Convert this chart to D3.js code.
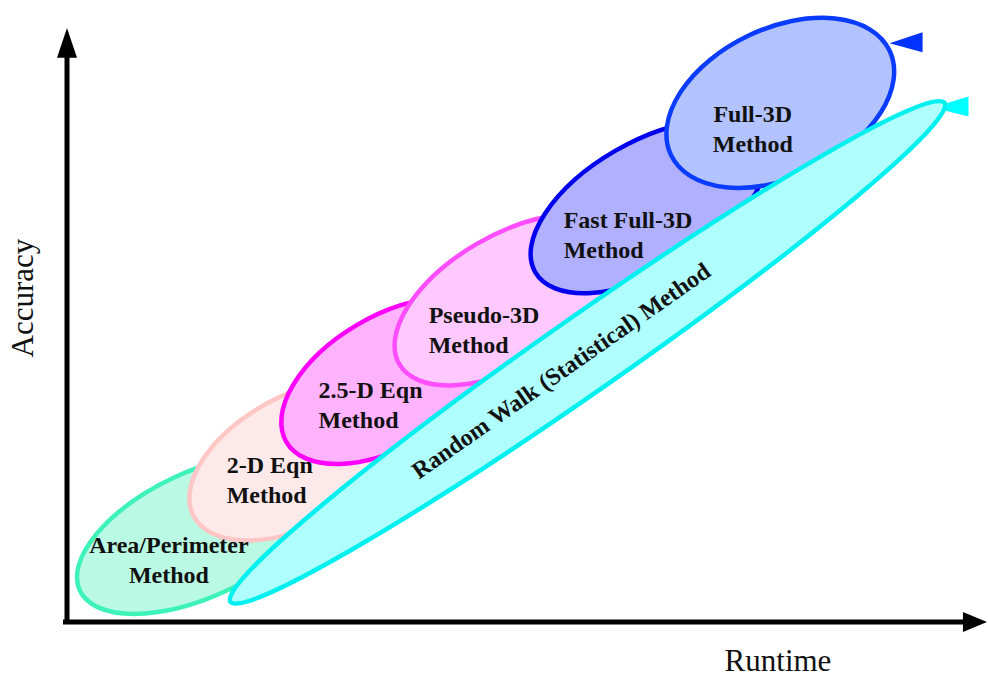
<!DOCTYPE html>
<html>
<head>
<meta charset="utf-8">
<script src="https://cdn.jsdelivr.net/npm/d3@7"></script>
<style>
  body { margin: 0; background: #fff; }
  svg { display: block; }
</style>
</head>
<body>
<div id="chart"></div>
<script>
// methods: major axis from (runtime0, accuracy0) to (runtime1, accuracy1), spread = half minor axis (runtime units)
const methods = ['Area/Perimeter Method', '2-D Eqn Method', '2.5-D Eqn Method', 'Pseudo-3D Method', 'Fast Full-3D Method', 'Full-3D Method'];
const runtime0 = [1.4, 13.8, 23.9, 36.2, 51.0, 65.8];
const accuracy0 = [5.3, 17.8, 30.3, 43.4, 58.9, 78.6];
const runtime1 = [27.8, 36.9, 46.5, 60.3, 75.6, 89.6];
const accuracy1 = [24.4, 36.8, 50.8, 65.0, 80.8, 96.2];
const spread = [6.8, 7.1, 7.1, 7.1, 7.1, 8.1];
// label anchor (runtime, accuracy) of first line
const labelRuntime = [11.1, 17.4, 27.4, 39.4, 54.1, 74.7];
const labelAccuracy = [11.6, 25.1, 37.7, 50.3, 66.3, 84.2];
const labelAlign = ['middle', 'start', 'start', 'start', 'start', 'middle'];
const outline = ['#3ef3b8', '#ffc6c6', '#ff00ff', '#ff4dff', '#0000ee', '#0a3cff'];
const fill = ['#baf9e3', '#fde9e9', '#ffb3ff', '#ffc8ff', '#b0b0ff', '#b3c3ff'];

const walkLabel = 'Random Walk (Statistical) Method';
const walkRuntime = [17.8, 95.6];
const walkAccuracy = [3.4, 87.4];
const walkSpread = 4.1;

// small arrowheads at the top right ends
const arrowTipRuntime = [89.6, 94.3];
const arrowBackRuntime = [93.2, 98.2];
const arrowAccuracy = [97.6, 86.8];
const arrowColor = ['#0033ff', '#00ffff'];

const width = 988,
  height = 679;

const x = d3.scaleLinear().domain([0, 100]).range([67, 985]);
const y = d3.scaleLinear().domain([0, 100]).range([622, 28]);
const unit = x(1) - x(0);

const svg = d3.select('#chart').append('svg').attr('width', width).attr('height', height);

function ellipseOf(r0, a0, r1, a1, s) {
  const x1 = x(r0), y1 = y(a0), x2 = x(r1), y2 = y(a1);
  const dx = x2 - x1, dy = y2 - y1;
  return {
    cx: (x1 + x2) / 2,
    cy: (y1 + y2) / 2,
    rx: Math.sqrt(dx * dx + dy * dy) / 2,
    ry: s * unit,
    angle: (Math.atan2(dy, dx) * 180) / Math.PI,
  };
}

const shapes = methods.map((m, i) =>
  Object.assign(
    { name: m, stroke: outline[i], fill: fill[i] },
    ellipseOf(runtime0[i], accuracy0[i], runtime1[i], accuracy1[i], spread[i])
  )
);

svg
  .append('g')
  .selectAll('ellipse')
  .data(shapes)
  .join('ellipse')
  .attr('cx', 0)
  .attr('cy', 0)
  .attr('rx', (d) => d.rx)
  .attr('ry', (d) => d.ry)
  .attr('transform', (d) => `translate(${d.cx},${d.cy}) rotate(${d.angle})`)
  .attr('fill', (d) => d.fill)
  .attr('stroke', (d) => d.stroke)
  .attr('stroke-width', 4.5);

// arrowheads
svg
  .append('g')
  .selectAll('path')
  .data(arrowColor)
  .join('path')
  .attr('d', (c, i) => {
    const tx = x(arrowTipRuntime[i]), bx = x(arrowBackRuntime[i]), cy = y(arrowAccuracy[i]);
    return `M${tx},${cy + 1}L${bx},${cy - 10}L${bx},${cy + 10}Z`;
  })
  .attr('fill', (c) => c);

// random walk
const walk = ellipseOf(walkRuntime[0], walkAccuracy[0], walkRuntime[1], walkAccuracy[1], walkSpread);
svg
  .append('ellipse')
  .attr('rx', walk.rx)
  .attr('ry', walk.ry)
  .attr('transform', `translate(${walk.cx},${walk.cy}) rotate(${walk.angle})`)
  .attr('fill', '#b0ffff')
  .attr('stroke', '#00f0f0')
  .attr('stroke-width', 4.5);

svg
  .append('text')
  .attr('transform', `translate(${walk.cx - 22},${walk.cy + 25}) rotate(${walk.angle})`)
  .attr('text-anchor', 'middle')
  .attr('font-family', 'Liberation Serif, Times New Roman, serif')
  .attr('font-weight', 'bold')
  .attr('font-size', 24)
  .attr('fill', '#111')
  .text(walkLabel);

// method labels
const labels = svg
  .append('g')
  .attr('font-family', 'Liberation Serif, Times New Roman, serif')
  .attr('font-weight', 'bold')
  .attr('font-size', 24)
  .attr('fill', '#111')
  .selectAll('text')
  .data(methods)
  .join('text')
  .attr('x', (d, i) => x(labelRuntime[i]))
  .attr('y', (d, i) => y(labelAccuracy[i]))
  .attr('text-anchor', (d, i) => labelAlign[i]);

labels
  .selectAll('tspan')
  .data((d, i) => {
    const k = d.lastIndexOf(' ');
    return [d.slice(0, k), d.slice(k + 1)].map((t) => ({ t, i }));
  })
  .join('tspan')
  .attr('x', (d) => x(labelRuntime[d.i]))
  .attr('dy', (d, j) => (j === 0 ? 0 : 30))
  .text((d) => d.t);

// axes
const axis = svg.append('g');
axis
  .append('line')
  .attr('x1', x(0))
  .attr('y1', y(0))
  .attr('x2', x(0))
  .attr('y2', y(97))
  .attr('stroke', '#000')
  .attr('stroke-width', 5);
axis
  .append('line')
  .attr('x1', x(0) - 4)
  .attr('y1', y(0))
  .attr('x2', x(98))
  .attr('y2', y(0))
  .attr('stroke', '#000')
  .attr('stroke-width', 5);
axis
  .append('path')
  .attr('d', `M${x(0)},${y(100)}L${x(0) - 10},${y(95)}L${x(0) + 10},${y(95)}Z`)
  .attr('fill', '#000');
axis
  .append('path')
  .attr('d', `M${x(100) + 2},${y(0)}L${x(97.6)},${y(0) - 10}L${x(97.6)},${y(0) + 10}Z`)
  .attr('fill', '#000');

svg
  .append('text')
  .attr('x', 778)
  .attr('y', 671)
  .attr('text-anchor', 'middle')
  .attr('font-family', 'Liberation Serif, Times New Roman, serif')
  .attr('font-size', 31)
  .attr('fill', '#111')
  .text('Runtime');

svg
  .append('text')
  .attr('transform', 'translate(33,298) rotate(-90)')
  .attr('text-anchor', 'middle')
  .attr('font-family', 'Liberation Serif, Times New Roman, serif')
  .attr('font-size', 31)
  .attr('fill', '#111')
  .text('Accuracy');
</script>
</body>
</html>
